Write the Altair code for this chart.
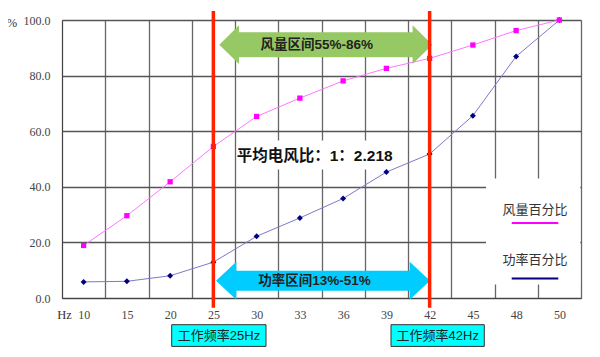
import altair as alt
import pandas as pd

# ---- data ----
hz = ["10", "15", "20", "25", "30", "33", "36", "39", "42", "45", "48", "50"]
wind_pct = [18.9, 29.6, 41.8, 54.5, 65.3, 71.9, 78.1, 82.6, 86.2, 91.0, 96.2, 100.0]
power_pct = [5.8, 6.0, 8.0, 12.9, 22.2, 28.8, 35.8, 45.3, 51.8, 65.6, 86.9, 100.0]
work_hz = ["25", "42"]
y_ticks = [0, 20, 40, 60, 80, 100]

wind_name = "风量百分比"
power_name = "功率百分比"
wind_range_text = "风量区间55%-86%"
power_range_text = "功率区间13%-51%"
ratio_text = "平均电风比：1：2.218"
work_labels = ["工作频率25Hz", "工作频率42Hz"]

W, H = 519, 278
SANS = "Liberation Sans, Noto Sans CJK SC"
SERIF = "Liberation Serif"

df_w = pd.DataFrame({"hz": hz, "value": wind_pct})
df_p = pd.DataFrame({"hz": hz, "value": power_pct})
df_r = pd.DataFrame({"hz": work_hz, "top": [103.2, 103.2], "bottom": [-3.5, -3.5]})
one = pd.DataFrame({"a": [0]})

xscale = alt.Scale(domain=hz, type="band", paddingInner=0, paddingOuter=0)
yscale = alt.Scale(domain=[0, 100], nice=False)

xaxis = alt.Axis(title=None, tickBand="extent", grid=True, ticks=False, labelAngle=0,
                 labelPadding=11, labelFont=SERIF, labelFontSize=12, labelColor="#444",
                 domainColor="#444", gridColor="#666", gridWidth=1.3)
yaxis = alt.Axis(title=None, values=y_ticks, format=".1f", grid=True, ticks=False,
                 labelPadding=12, labelFont=SERIF, labelFontSize=12, labelColor="#444",
                 domainColor="#444", gridColor="#555", gridWidth=1.3)

X = alt.X("hz:N", scale=xscale, sort=None, axis=xaxis)
Y = alt.Y("value:Q", scale=yscale, axis=yaxis)


def arrow_path(head_len, head_half, body_half):
    a = 1 - head_len
    return (f"M-1,0 L{-a},{-head_half} L{-a},{-body_half} L{a},{-body_half} L{a},{-head_half} "
            f"L1,0 L{a},{head_half} L{a},{body_half} L{-a},{body_half} L{-a},{head_half} Z")


# white boxes over the grid
ratio_bg = alt.Chart(one).mark_rect(fill="white").encode(
    x=alt.value(176), x2=alt.value(333), y=alt.value(120.5), y2=alt.value(149.5))
legend_bg = alt.Chart(one).mark_rect(fill="white").encode(
    x=alt.value(424), x2=alt.value(518.3), y=alt.value(158.5), y2=alt.value(264.5))

wind_line = alt.Chart(df_w).mark_line(color="#FF77FF", strokeWidth=1).encode(x=X, y=Y)
wind_pts = alt.Chart(df_w).mark_point(shape="square", filled=True, size=28, color="#FF00FF",
                                      opacity=1).encode(x=X, y=Y)
power_line = alt.Chart(df_p).mark_line(color="#7b7bc8", strokeWidth=1).encode(x=X, y=Y)
power_pts = alt.Chart(df_p).mark_point(shape="diamond", filled=True, size=36, color="#000080",
                                       opacity=1).encode(x=X, y=Y)

green_arrow = alt.Chart(one).mark_point(
    shape=arrow_path(0.185, 0.182, 0.117), size=213 ** 2, filled=True, fill="#96C864",
    strokeWidth=0, opacity=1).encode(x=alt.value(263.8), y=alt.value(24.7))
cyan_arrow = alt.Chart(one).mark_point(
    shape=arrow_path(0.19, 0.177, 0.094), size=214 ** 2, filled=True, fill="#00CCFF",
    strokeWidth=0, opacity=1).encode(x=alt.value(261), y=alt.value(260.7))

red_lines = alt.Chart(df_r).mark_rule(color="#FF2200", strokeWidth=3.5).encode(
    x=X, y=alt.Y("top:Q", scale=yscale, axis=yaxis), y2="bottom:Q")

def txt(s, x, y, size, weight="normal", font=SANS, color="#222", align="center"):
    return alt.Chart(one).mark_text(font=font, fontSize=size, fontWeight=weight, color=color,
                                    align=align, baseline="middle").encode(
        x=alt.value(x), y=alt.value(y), text=alt.value(s))

wind_range = txt(wind_range_text, 254.7, 24.9, 13.5, "bold")
power_range = txt(power_range_text, 252.5, 261, 13.5, "bold")
ratio = txt(ratio_text, 252.7, 136.4, 15.5, "bold", color="#111")

leg_wind_t = txt(wind_name, 473, 189.7, 13, font="Noto Sans CJK SC", color="#333")
leg_power_t = txt(power_name, 473, 239.7, 13, font="Noto Sans CJK SC", color="#333")
leg_wind_l = alt.Chart(one).mark_rule(color="#FF00FF", strokeWidth=2).encode(
    x=alt.value(449.7), x2=alt.value(496.3), y=alt.value(203))
leg_power_l = alt.Chart(one).mark_rule(color="#000080", strokeWidth=2).encode(
    x=alt.value(449.7), x2=alt.value(496.3), y=alt.value(258.4))

box1 = alt.Chart(one).mark_rect(fill="#00FFFF", stroke="#333", strokeWidth=1).encode(
    x=alt.value(109.7), x2=alt.value(204), y=alt.value(304.7), y2=alt.value(326.4))
box2 = alt.Chart(one).mark_rect(fill="#00FFFF", stroke="#333", strokeWidth=1).encode(
    x=alt.value(329), x2=alt.value(422.3), y=alt.value(304.7), y2=alt.value(326.4))
box1_t = txt(work_labels[0], 157, 315.8, 13, color="#222")
box2_t = txt(work_labels[1], 375.7, 315.8, 13, color="#222")

pct_t = txt("%", -50, 2.5, 12.5, font=SERIF, color="#333")
hz_t = txt("Hz", 2.5, 295.4, 12.5, font=SERIF, color="#333")

chart = alt.layer(
    ratio_bg, legend_bg, wind_line, power_line, power_pts, wind_pts,
    green_arrow, cyan_arrow, red_lines, wind_range, power_range, ratio,
    leg_wind_t, leg_power_t, leg_wind_l, leg_power_l, box1, box2, box1_t, box2_t,
    pct_t, hz_t,
).properties(
    width=W, height=H, autosize="none",
    padding={"left": 54, "top": 12, "right": 11, "bottom": 52},
    background="white",
).configure_view(strokeWidth=0)

chart.save("out.html", embed_options={"renderer": "svg", "actions": False})
